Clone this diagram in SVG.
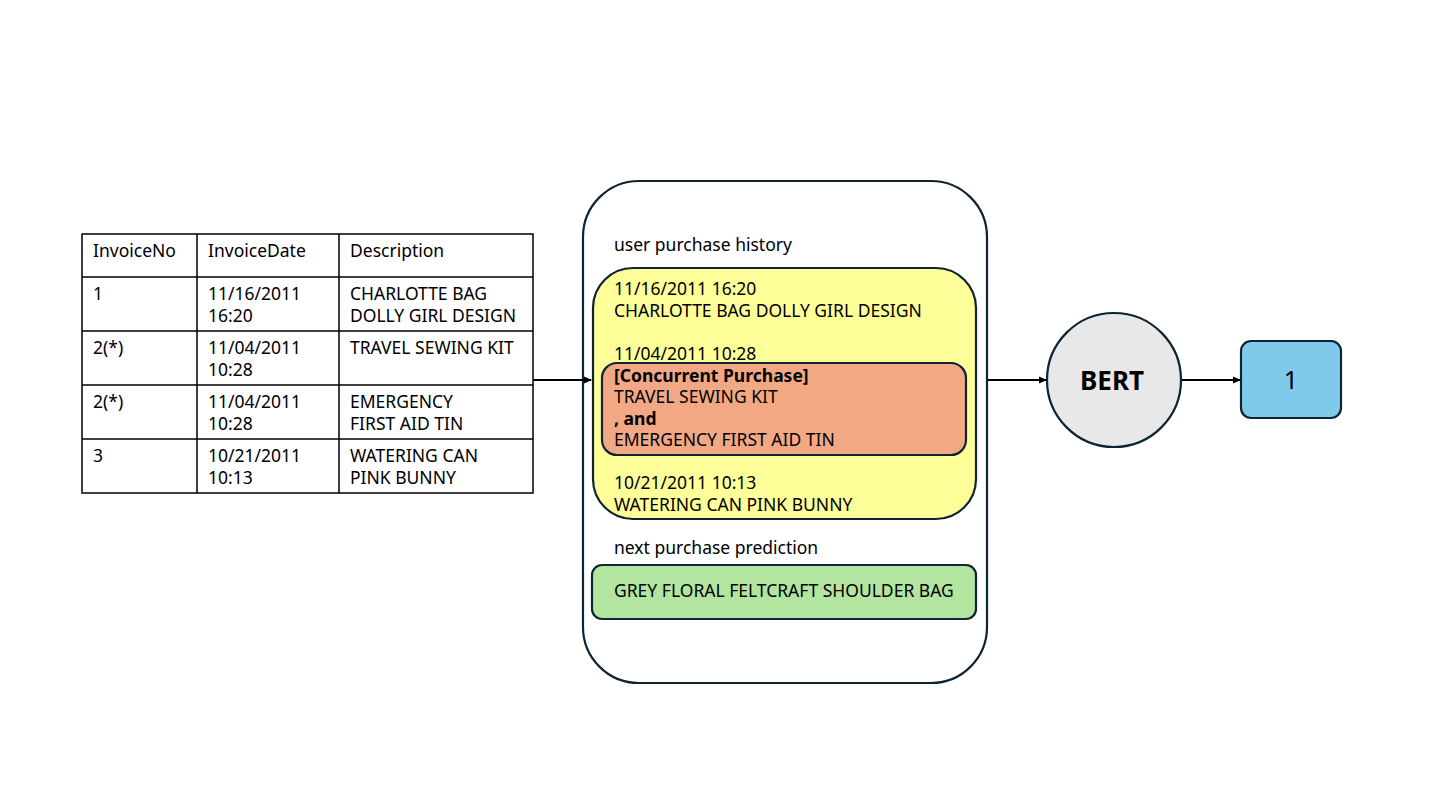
<svg xmlns="http://www.w3.org/2000/svg" width="1440" height="810" viewBox="0 0 1440 810">
<defs>
<marker id="arr" markerWidth="8" markerHeight="8" refX="7" refY="4" orient="auto" markerUnits="userSpaceOnUse">
<path d="M0,0.5 L8,4 L0,7.5 Z" fill="#000"/>
</marker>
<style>
text{font-family:"Noto Sans","Open Sans","Liberation Sans",sans-serif;font-size:17.5px;fill:#000}
.b{font-weight:bold}
.tl{stroke:#000;stroke-width:1.5;fill:none}
.n{stroke:#0E2433;stroke-width:2.2}
.c{stroke:#000;stroke-width:2;fill:none}
</style>
</defs>
<rect width="1440" height="810" fill="#fff"/>
<g id="table">
<rect x="82" y="234" width="451" height="259" class="tl"/>
<line x1="82" y1="277" x2="533" y2="277" class="tl"/>
<line x1="82" y1="331" x2="533" y2="331" class="tl"/>
<line x1="82" y1="385" x2="533" y2="385" class="tl"/>
<line x1="82" y1="439" x2="533" y2="439" class="tl"/>
<line x1="197" y1="234" x2="197" y2="493" class="tl"/>
<line x1="339" y1="234" x2="339" y2="493" class="tl"/>
<text x="93" y="257">InvoiceNo</text>
<text x="208" y="257">InvoiceDate</text>
<text x="350" y="257">Description</text>
<text x="93" y="300">1</text>
<text x="208" y="300">11/16/2011</text>
<text x="208" y="322">16:20</text>
<text x="350" y="300">CHARLOTTE BAG</text>
<text x="350" y="322">DOLLY GIRL DESIGN</text>
<text x="93" y="354">2(*)</text>
<text x="208" y="354">11/04/2011</text>
<text x="208" y="376">10:28</text>
<text x="350" y="354">TRAVEL SEWING KIT</text>
<text x="93" y="408">2(*)</text>
<text x="208" y="408">11/04/2011</text>
<text x="208" y="430">10:28</text>
<text x="350" y="408">EMERGENCY</text>
<text x="350" y="430">FIRST AID TIN</text>
<text x="93" y="462">3</text>
<text x="208" y="462">10/21/2011</text>
<text x="208" y="484">10:13</text>
<text x="350" y="462">WATERING CAN</text>
<text x="350" y="484">PINK BUNNY</text>
</g>
<g id="container">
<rect x="583" y="181" width="404" height="502" rx="56" fill="#fff" class="n"/>
<text x="614" y="251">user purchase history</text>
<text x="614" y="554">next purchase prediction</text>
</g>
<g id="history">
<rect x="593" y="268" width="383" height="251" rx="40" fill="#FFFF99" class="n"/>
<text x="614" y="295">11/16/2011 16:20</text>
<text x="614" y="317">CHARLOTTE BAG DOLLY GIRL DESIGN</text>
<text x="614" y="360">11/04/2011 10:28</text>
<text x="614" y="489">10/21/2011 10:13</text>
<text x="614" y="511">WATERING CAN PINK BUNNY</text>
</g>
<g id="concurrent">
<rect x="602" y="363" width="364" height="92" rx="15" fill="#F2A884" class="n"/>
<text x="614" y="382" class="b">[Concurrent Purchase]</text>
<text x="614" y="403">TRAVEL SEWING KIT</text>
<text x="614" y="425" class="b">, and</text>
<text x="614" y="446">EMERGENCY FIRST AID TIN</text>
</g>
<g id="prediction">
<rect x="592" y="565" width="384" height="54" rx="10" fill="#B3E5A0" class="n"/>
<text x="614" y="597">GREY FLORAL FELTCRAFT SHOULDER BAG</text>
</g>
<g id="bert">
<circle cx="1114" cy="380" r="67" fill="#E8E8E8" class="n"/>
<text x="1112" y="390" class="b" text-anchor="middle" style="font-size:26px">BERT</text>
</g>
<g id="output">
<rect x="1241" y="341" width="100" height="77" rx="10" fill="#7FCAEA" class="n"/>
<text x="1291" y="389" text-anchor="middle" style="font-size:25px">1</text>
</g>
<g id="connectors">
<line x1="533" y1="380" x2="591" y2="380" class="c" marker-end="url(#arr)"/>
<line x1="988" y1="380" x2="1046" y2="380" class="c" marker-end="url(#arr)"/>
<line x1="1182" y1="380" x2="1240" y2="380" class="c" marker-end="url(#arr)"/>
</g>
</svg>
